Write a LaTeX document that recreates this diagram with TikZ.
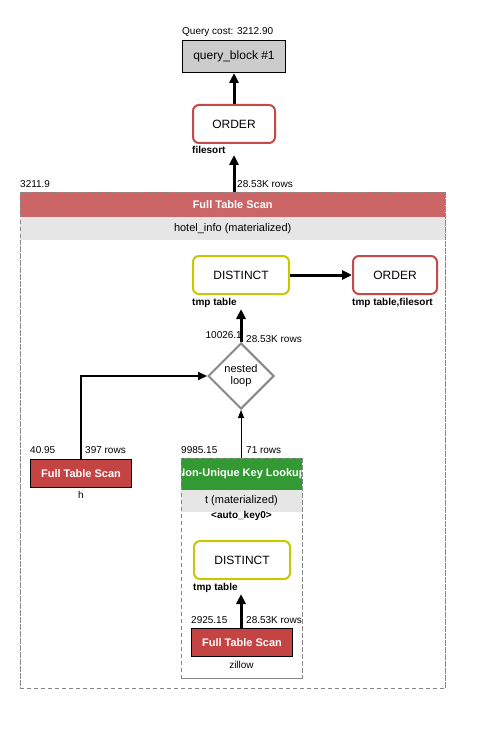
\documentclass[tikz,border=0pt]{standalone}
\usepackage{fontspec}
\setmainfont{Liberation Sans}
\usetikzlibrary{arrows.meta,shapes.geometric}
\definecolor{hdrred}{HTML}{CC6666}
\definecolor{ftsred}{HTML}{C44444}
\definecolor{lookgreen}{HTML}{339933}
\definecolor{bandgray}{HTML}{E6E6E6}
\definecolor{ordred}{HTML}{C44A4A}
\definecolor{distyel}{HTML}{C8C800}
\definecolor{dashgray}{HTML}{888888}
\tikzset{
  small/.style={font=\fontsize{10}{12}\selectfont, inner sep=0pt},
  smallb/.style={font=\fontsize{10}{12}\selectfont\bfseries, inner sep=0pt},
  opbox/.style={draw, rounded corners=6pt, line width=2pt, fill=white,
    minimum width=82pt, minimum height=38pt, font=\fontsize{12}{14}\selectfont, inner sep=0pt},
  ftsbox/.style={draw=black, line width=1pt, fill=ftsred, text=white,
    minimum width=101pt, minimum height=28pt, font=\fontsize{11}{13}\selectfont\bfseries, inner sep=0pt},
  dashbox/.style={draw=dashgray, dash pattern=on 4pt off 3pt, line width=0.9pt},
  bigarr/.style={line width=3pt, -{Triangle[length=10pt,width=9pt]}},
  midarr/.style={line width=2pt, -{Triangle[length=9pt,width=8pt]}},
  thinarr/.style={line width=1pt, -{Triangle[length=8pt,width=6pt]}},
}
\begin{document}
\begin{tikzpicture}[x=1pt,y=-1pt]
\useasboundingbox[fill=white] (0,0) rectangle (485,738);

% top
\node[small, anchor=base west] (qcost) at (182,35) {Query cost: 3212.90};
\node[draw=black, line width=1pt, fill=black!20, minimum width=103pt, minimum height=32pt,
  font=\fontsize{12}{14}\selectfont, inner sep=0pt, anchor=north west] (qb) at (182,40) {query\_block \#1};
\node[opbox, draw=ordred, anchor=north west] (ord1) at (192,104) {ORDER};
\node[smallb, anchor=base west] (fs1) at (192,154) {filesort};

% outer materialized table
\node[dashbox, minimum width=425pt, minimum height=496pt, inner sep=0pt, anchor=north west] (outer) at (20,192) {};
\node[fill=hdrred, text=white, minimum width=425pt, minimum height=25pt, inner sep=0pt,
  font=\fontsize{11}{13}\selectfont\bfseries, anchor=north west] (hdr) at (20,192) {Full Table Scan};
\node[fill=bandgray, minimum width=425pt, minimum height=23pt, inner sep=0pt,
  font=\fontsize{11}{13}\selectfont, anchor=north west] (hband) at (20,217) {hotel\_info (materialized)};
\draw[dashbox] (outer.north west) rectangle (outer.south east);
\node[small, anchor=base west] at (20,187) {3211.9};
\node[small, anchor=base west] at (237,187) {28.53K rows};
\coordinate (fs1end) at (ord1.south |- 0,155);
\draw[bigarr] (hdr.north -| fs1end) -- (fs1end);
\draw[bigarr] (ord1.north) -- (qb.south);

% distinct / order
\node[opbox, draw=distyel, minimum width=96pt, anchor=north west] (dist1) at (192,255) {DISTINCT};
\node[smallb, anchor=base west] (tt1) at (192,305) {tmp table};
\node[opbox, draw=ordred, minimum width=84pt, anchor=north west] (ord2) at (352,255) {ORDER};
\node[smallb, anchor=base west] at (352,305) {tmp table,filesort};
\draw[bigarr] (dist1.east) -- (ord2.west);

% nested loop
\node[diamond, draw=dashgray, line width=2pt, fill=white, minimum width=66pt, minimum height=66pt,
  inner sep=0pt, align=center, font=\fontsize{11}{12}\selectfont] (nl) at (241,376) {nested\\loop};
\coordinate (dist1end) at (nl.north |- 0,309);
\draw[bigarr] (nl.north) -- (dist1end);
\node[small, anchor=base east] at (242,338) {10026.1};
\node[small, anchor=base west] at (246,342) {28.53K rows};

% h
\node[ftsbox, anchor=north west] (fth) at (30,459) {Full Table Scan};
\node[small, anchor=base] at (81,498) {h};
\node[small, anchor=base west] at (30,453) {40.95};
\node[small, anchor=base west] at (85,453) {397 rows};
\draw[midarr] (fth.north) |- (nl.west);

% inner materialized t
\node[dashbox, minimum width=121pt, minimum height=220pt, inner sep=0pt, anchor=north west] (inner) at (181,458) {};
\begin{scope}
\clip (181,458) rectangle (302,512);
\fill[lookgreen] (181,458) rectangle (302,490);
\fill[bandgray] (181,490) rectangle (302,512);
\node[text=white, font=\fontsize{11}{13}\selectfont\bfseries, inner sep=0pt] (nukl) at (241.5,474) {Non-Unique Key Lookup};
\node[font=\fontsize{11}{13}\selectfont, inner sep=0pt] at (241.5,501) {t (materialized)};
\end{scope}
\draw[dashbox] (inner.north west) rectangle (inner.south east);
\node[smallb, anchor=base] at (241.5,518) {<auto\_key0>};
\node[small, anchor=base west] at (181,453) {9985.15};
\node[small, anchor=base west] at (246,453) {71 rows};
\draw[thinarr] (inner.north -| nl.south) -- (nl.south);

\node[opbox, draw=distyel, minimum width=96pt, anchor=north west] (dist2) at (193,540) {DISTINCT};
\node[smallb, anchor=base west] at (193,590) {tmp table};
\node[ftsbox, anchor=north west] (ftz) at (191,628) {Full Table Scan};
\node[small, anchor=base] at (241.5,668) {zillow};
\node[small, anchor=base west] at (191,623) {2925.15};
\node[small, anchor=base west] at (246,623) {28.53K rows};
\coordinate (dist2end) at (241,594);
\draw[bigarr] (ftz.north -| dist2end) -- (dist2end);
\end{tikzpicture}
\end{document}
